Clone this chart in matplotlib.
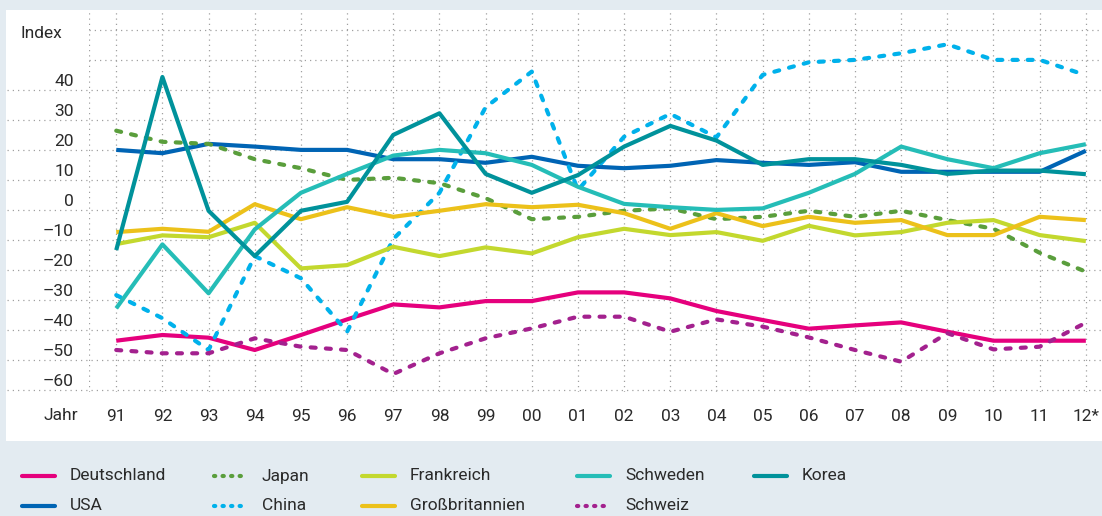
import matplotlib
matplotlib.use("Agg")
import matplotlib.pyplot as plt
from matplotlib.lines import Line2D
from matplotlib.patches import Rectangle

plt.rcParams['font.family'] = ['Roboto', 'DejaVu Sans']

# Daten
jahre = ["91", "92", "93", "94", "95", "96", "97", "98", "99", "00", "01",
         "02", "03", "04", "05", "06", "07", "08", "09", "10", "11", "12*"]

deutschland = [-46.9, -45.0, -45.9, -50.0, -45.0, -39.8, -34.8, -35.8, -33.7, -33.7, -30.8,
               -30.8, -32.8, -37.0, -40.0, -42.9, -41.8, -40.8, -43.9, -46.9, -46.9, -46.9]
usa = [16.7, 15.6, 18.7, 17.8, 16.7, 16.7, 13.6, 13.6, 12.4, 14.4, 11.4,
       10.6, 11.4, 13.3, 12.4, 11.7, 12.6, 9.4, 9.4, 9.4, 9.4, 16.4]
japan = [23.1, 19.4, 18.7, 13.6, 10.6, 6.7, 7.4, 5.6, 0.6, -6.4, -5.6,
         -3.6, -2.8, -6.4, -5.6, -3.6, -5.6, -3.6, -6.7, -9.6, -17.6, -23.9]
china = [-31.7, -39.4, -50.0, -18.7, -26.1, -43.9, -13.0, 2.4, 30.9, 42.8, 3.3,
         21.1, 28.7, 20.9, 41.7, 45.9, 46.7, 48.9, 51.9, 46.7, 46.7, 41.6]
frankreich = [-14.7, -11.8, -12.4, -7.6, -22.8, -21.7, -15.6, -18.7, -15.8, -17.8, -12.4,
              -9.6, -11.7, -10.7, -13.6, -8.6, -11.8, -10.7, -7.6, -6.7, -11.7, -13.7]
grossbritannien = [-10.7, -9.6, -10.6, -1.4, -6.4, -2.4, -5.6, -3.6, -1.4, -2.4, -1.6,
                   -4.4, -9.6, -4.4, -8.7, -5.6, -7.6, -6.7, -11.7, -11.7, -5.6, -6.7]
schweden = [-36.1, -14.8, -31.1, -9.8, 2.4, 8.7, 14.8, 16.7, 15.6, 11.7, 4.4,
            -1.3, -2.4, -3.3, -2.8, 2.4, 8.7, 17.8, 13.6, 10.6, 15.6, 18.6]
schweiz = [-50.0, -51.1, -51.1, -46.1, -48.9, -50.0, -58.0, -51.1, -46.1, -42.8, -38.9,
           -38.9, -43.9, -39.8, -42.2, -45.8, -50.0, -53.9, -44.4, -49.8, -48.9, -40.9]
korea = [-16.7, 41.0, -3.6, -18.7, -3.6, -0.6, 21.7, 28.9, 8.7, 2.4, 8.3,
         17.8, 24.7, 19.8, 11.7, 13.6, 13.6, 11.7, 8.7, 9.8, 9.8, 8.6]

y_labels = [40, 30, 20, 10, 0, -10, -20, -30, -40, -50, -60]

# (Name, Werte, Farbe, gestrichelt)
serien = [
    ("Deutschland", deutschland, "#e5007d", False),
    ("USA", usa, "#0064b4", False),
    ("Japan", japan, "#5a9e3c", True),
    ("China", china, "#00b1eb", True),
    ("Frankreich", frankreich, "#c3d82e", False),
    ("Großbritannien", grossbritannien, "#ecc11a", False),
    ("Schweden", schweden, "#25bdb7", False),
    ("Schweiz", schweiz, "#a3218e", True),
    ("Korea", korea, "#00929b", False),
]

W, H = 1102, 516
fs = 12.5
txt = "#2a2a2a"

fig = plt.figure(figsize=(W / 100, H / 100), dpi=100)
fig.patch.set_facecolor("#e3ebf1")

# weisses Feld hinter dem Diagramm
fig.add_artist(Rectangle((6 / W, 1 - 441 / H), 1 - 6 / W, (441 - 10) / H,
                         transform=fig.transFigure, facecolor="white",
                         edgecolor="none", zorder=0))

ax = fig.add_axes([89 / W, 1 - 392 / H, (W - 89) / W, (392 - 10) / H])
ax.set_facecolor("none")
for s in ax.spines.values():
    s.set_visible(False)

x = list(range(len(jahre)))
ax.set_xlim(-0.59, 21.35)
ax.set_ylim(-64, 63.33)

grid_kw = dict(color="#a0a0a0", lw=0.9, ls=(0, (1, 3.2)), zorder=1)

# vertikale Hilfslinien
for xv in [-0.59] + x:
    ax.axvline(xv, **grid_kw)

# horizontale Hilfslinien (leicht versetzt zu den Beschriftungen)
for i, yv in enumerate([56.67 - 10 * k for k in range(13)]):
    if i < 2:
        ax.axhline(yv, xmin=0, xmax=1, **grid_kw)
    else:
        ax.axhline(yv, xmin=-82 / (W - 89), xmax=1, clip_on=False, **grid_kw)

for name, werte, farbe, gestrichelt in serien:
    if gestrichelt:
        ax.plot(x, werte, color=farbe, lw=3, dashes=(1.2, 2.45),
                dash_capstyle="round", zorder=3)
    else:
        ax.plot(x, werte, color=farbe, lw=3, solid_capstyle="butt",
                solid_joinstyle="round", zorder=3)

ax.set_xticks(x)
ax.set_xticklabels(jahre)
ax.set_yticks(y_labels)
ax.set_yticklabels([str(v).replace("-", "–") for v in y_labels])
ax.tick_params(length=0, labelsize=fs, colors=txt, pad=11)
ax.tick_params(axis="x", pad=12)

fig.text(20 / W, 1 - 33 / H, "Index", fontsize=fs, color=txt, va="center")
fig.text(43 / W, 1 - 416 / H, "Jahr", fontsize=fs, color=txt, va="center")

# Legende, spaltenweise von Hand gesetzt
spalten_x = [20, 212, 360, 575, 752]
zeilen_y = [476, 506]
for k, (name, werte, farbe, gestrichelt) in enumerate(serien):
    px = spalten_x[k // 2]
    py = zeilen_y[k % 2]
    yy = 1 - py / H
    if gestrichelt:
        h = Line2D([(px + 2) / W, (px + 36) / W], [yy, yy], color=farbe, lw=3,
                   dashes=(0.3, 1.75), dash_capstyle="round",
                   transform=fig.transFigure)
    else:
        h = Line2D([(px + 2) / W, (px + 35) / W], [yy, yy], color=farbe, lw=3,
                   solid_capstyle="round", transform=fig.transFigure)
    fig.add_artist(h)
    fig.text((px + 50) / W, yy, name, fontsize=fs, color=txt, va="center")

fig.savefig("out.png", dpi=100, facecolor=fig.get_facecolor())
